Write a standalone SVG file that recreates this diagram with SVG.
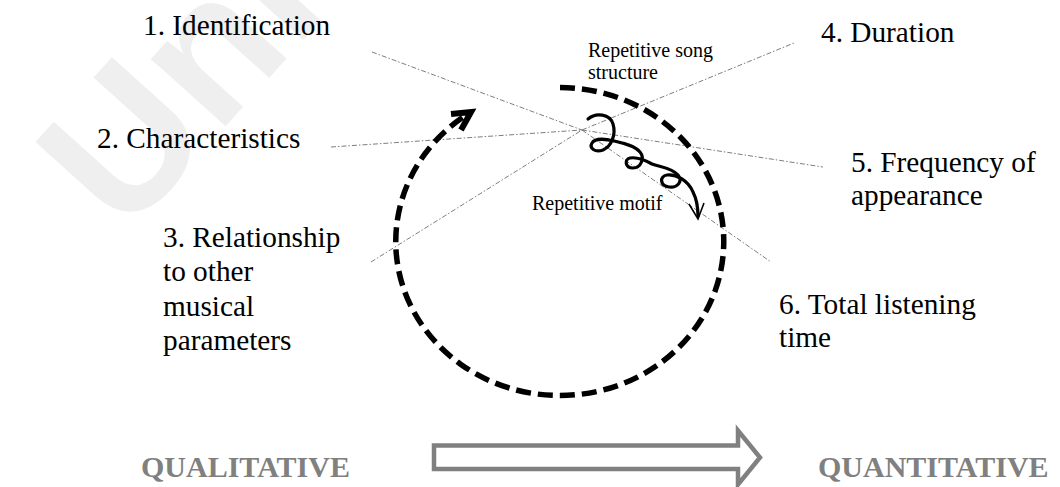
<svg xmlns="http://www.w3.org/2000/svg" width="1060" height="487" viewBox="0 0 1060 487">
  <style>
    .lbl { font-family: "Liberation Serif", "Times New Roman", serif; font-size: 29.3px; fill: #000; }
    .small { font-family: "Liberation Serif", "Times New Roman", serif; font-size: 20px; fill: #000; }
    .scale { font-family: "Liberation Serif", "Times New Roman", serif; font-size: 30px; font-weight: bold; fill: #808080; }
    .ray { stroke: #6e6e6e; stroke-width: 0.9; fill: none; stroke-dasharray: 5 2 1.5 2; }
    .cycle { stroke: #000; stroke-width: 5.5; fill: none; stroke-dasharray: 15 7; }
    .head { stroke: #000; stroke-width: 6; fill: none; stroke-linejoin: miter; }
    .motif { stroke: #000; stroke-width: 3.2; fill: none; stroke-linecap: round; stroke-linejoin: round; }
  </style>

  <rect width="1060" height="487" fill="#fff"/>

  <!-- faint watermark behind the drawing -->
  <text x="0" y="0" transform="translate(125,238) rotate(-48)" font-family="Liberation Sans, Arial, sans-serif" font-size="190" font-weight="bold" fill="#efefef">Uni</text>

  <!-- dotted rays from each label to the common point -->
  <g id="connectors">
    <line class="ray" x1="372" y1="52" x2="582" y2="130"/>
    <line class="ray" x1="331" y1="147" x2="582" y2="130"/>
    <line class="ray" x1="371" y1="262" x2="582" y2="130"/>
    <line class="ray" x1="582" y1="130" x2="794" y2="43"/>
    <line class="ray" x1="582" y1="130" x2="823" y2="167"/>
    <line class="ray" x1="582" y1="130" x2="771" y2="262"/>
  </g>

  <!-- large dashed cycle: repetitive song structure -->
  <g id="song-structure">
    <path class="cycle" d="M 560 87.5 A 164 154 0 1 1 467 114.5"/>
    <polyline class="head" points="451,114 471,112 461,130"/>
    <text class="small" x="588" y="57">Repetitive song</text>
    <text class="small" x="588" y="79">structure</text>
  </g>

  <!-- looping motif line: three loops drifting down to the right -->
  <g id="motif">
    <path class="motif" d="M 588 119
      C 596 112, 610 114, 613 124
      C 616 134, 612 146, 603 150
      C 595 153, 589 148, 592 143
      C 595 138, 606 139, 614 141
      C 622 143, 634 145, 640 152
      C 645 158, 641 168, 633 168
      C 625 168, 624 159, 630 158
      C 636 157, 645 160, 652 164
      C 660 167, 672 168, 678 175
      C 683 181, 678 188, 669 187
      C 660 186, 659 176, 667 175
      C 676 174, 688 180, 693 192
      C 697 200, 698 208, 698 216"/>
    <polyline fill="none" stroke="#000" stroke-width="1.6" points="689,204 698,219 704,203"/>
    <text class="small" x="532" y="210">Repetitive motif</text>
  </g>

  <g id="identification"><text class="lbl" x="143" y="35">1. Identification</text></g>
  <g id="characteristics"><text class="lbl" x="97" y="148">2. Characteristics</text></g>
  <g id="relationship">
    <text class="lbl" x="163" y="247">3. Relationship</text>
    <text class="lbl" x="163" y="281">to other</text>
    <text class="lbl" x="163" y="315.5">musical</text>
    <text class="lbl" x="163" y="350">parameters</text>
  </g>
  <g id="duration"><text class="lbl" x="821" y="41.5">4. Duration</text></g>
  <g id="frequency">
    <text class="lbl" x="851" y="172">5. Frequency of</text>
    <text class="lbl" x="851" y="205">appearance</text>
  </g>
  <g id="listening-time">
    <text class="lbl" x="779" y="313.5">6. Total listening</text>
    <text class="lbl" x="779" y="346.5">time</text>
  </g>

  <!-- qualitative to quantitative scale -->
  <g id="scale">
    <text class="scale" x="141" y="477">QUALITATIVE</text>
    <polygon points="434,445.5 738,445.5 738,430.5 760,457.5 738,484.5 738,469 434,469" fill="#fff" stroke="#808080" stroke-width="4.5" stroke-linejoin="miter"/>
    <text class="scale" x="818" y="477">QUANTITATIVE</text>
  </g>
</svg>
